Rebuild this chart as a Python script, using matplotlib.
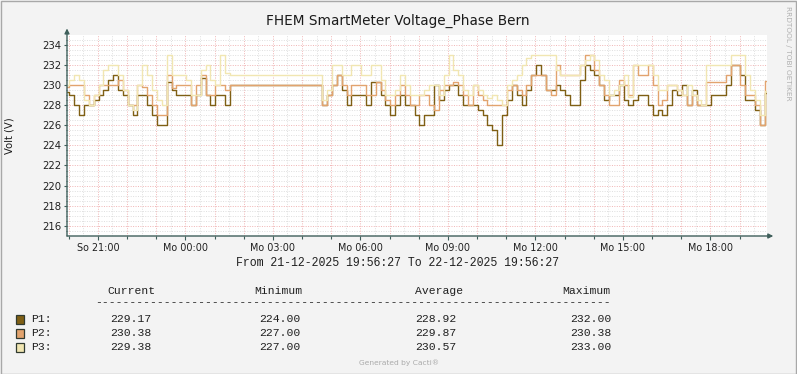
import matplotlib
matplotlib.use("Agg")
import matplotlib.pyplot as plt
from matplotlib.patches import Rectangle
import numpy as np

# ---------------- data (10-minute samples, start 21-12-2025 19:56:27) ----------------
p1 = [229.3, 229, 228, 227, 228, 228, 228.5, 229, 229.5, 230.5, 231, 229.5, 229, 228, 227, 229, 229, 228, 227, 226,
      226, 230.3, 229.5, 229, 229, 229, 228, 229, 230.7, 229, 228, 229, 229, 228, 230, 230,
      230, 230, 230, 230, 230, 230, 230, 230, 230, 230, 230, 230, 230, 230, 230, 230,
      230, 228, 229, 230, 231, 229.5, 228, 229, 229, 229, 228, 230.3, 230.3, 229, 228, 227, 228, 229,
      228, 228, 227, 226, 227, 227, 230, 228.5, 229.5, 230, 230, 229, 228, 228, 228, 227.5, 227, 226,
      225.5, 224, 227, 228.5, 230, 229, 228, 229.5, 231, 232, 231, 229.5, 229.5, 230, 229.5, 229, 228, 228,
      230.5, 232, 231.5, 231, 230, 228.5, 229, 229, 230, 228.5, 228, 228.5, 229, 229, 228, 227, 227.5, 227,
      228, 229.5, 229, 230, 228, 229.5, 228, 228, 228, 229, 229, 229, 230, 232, 232, 231, 228.5, 228.5,
      227.5, 226, 229.2]
p2 = [229.8, 230, 230, 230, 229, 228, 229, 230, 230, 230, 230, 230.5, 229.5, 228, 228, 230, 229.8, 229, 228, 227,
      227, 231, 229.7, 230, 230, 230, 228, 230, 231, 229, 229, 230, 230, 229.5, 230, 230,
      230, 230, 230, 230, 230, 230, 230, 230, 230, 230, 230, 230, 230, 230, 230, 230,
      230, 228, 229, 230, 231, 230, 229, 230, 230, 230, 229, 229, 230.3, 229.5, 228.5, 228, 229, 230,
      229, 228, 228, 229, 229, 228, 227.5, 229.5, 230, 230, 230.3, 230, 229, 228, 230, 229, 228.5, 228,
      228, 228, 228, 229.5, 230, 229.5, 229, 230, 231, 231, 231, 229.5, 229, 232, 231, 231, 231, 231,
      232, 233, 233, 231.5, 230, 229, 228, 228, 230.5, 230, 229, 232, 231, 231, 232, 230, 228, 228.5,
      230, 230, 229.5, 229, 228, 229, 228, 228, 230.3, 230.3, 230.3, 230.3, 231, 232, 232, 230, 229, 229,
      228, 226, 230.4]
p3 = [230, 230.5, 231, 230.5, 228.5, 228, 229, 230, 231.5, 232, 232, 231, 229.5, 228, 227.5, 230, 232, 231, 229.5, 228.5,
      228, 233, 231, 231, 231, 230.5, 229, 229, 231.5, 232, 230.5, 230, 233, 231.2, 231, 231,
      231, 231, 231, 231, 231, 231, 231, 231, 231, 231, 231, 231, 231, 231, 231, 231,
      231, 228.5, 229.5, 232, 232, 231, 231, 232, 232, 231, 231, 232, 232, 230.5, 229, 229, 229.5, 231,
      230, 229, 229, 229, 229.5, 230, 230, 229, 231, 233, 231.5, 231, 229.5, 229, 230, 229.5, 229, 228.7,
      229, 228.5, 228, 230, 230.5, 231, 232, 232.7, 233, 233, 233, 233, 233, 231.5, 231, 231, 231, 231,
      232, 232.5, 233, 232.5, 231, 230.5, 229, 229.5, 230, 231, 228.8, 232, 232, 232, 232, 231, 229.5, 229.5,
      230, 230, 229.5, 229, 230, 229, 228.5, 228, 232, 232, 232, 232, 232, 233, 233, 233, 231, 229.5,
      228.5, 227, 229.4]
series_names = ["P1:", "P2:", "P3:"]
series_colors = ["#7F5F14", "#E2A36E", "#F1E6B2"]
stat_headers = ["Current", "Minimum", "Average", "Maximum"]
stats = [["229.17", "224.00", "228.92", "232.00"],
         ["230.38", "227.00", "229.87", "230.38"],
         ["229.38", "227.00", "230.57", "233.00"]]
tick_labels = ["So 21:00", "Mo 00:00", "Mo 03:00", "Mo 06:00", "Mo 09:00", "Mo 12:00", "Mo 15:00", "Mo 18:00"]
title = "FHEM SmartMeter Voltage_Phase Bern"
ylabel = "Volt (V)"
period_text = "From 21-12-2025 19:56:27 To 22-12-2025 19:56:27"

# ---------------- figure ----------------
W, H = 797, 374
fig = plt.figure(figsize=(W / 100, H / 100), dpi=100, facecolor="#F3F3F3")

def fx(x):
    return x / W

def fy(y):
    return 1 - y / H

L, R, T, B = 67, 767, 34.5, 236
ax = fig.add_axes([fx(L), fy(B), (R - L) / W, (B - T) / H])
ax.set_facecolor("white")

samples = np.arange(len(p1)) * 10 / 60.0  # hours since start
ax.set_xlim(0, 24)
ax.set_ylim(215, 235)

# grid
off = 1 - 56.45 / 60.0  # 20:00 relative to start
hours = off + np.arange(0, 24)
halfs = off - 0.5 + np.arange(0, 25)
halfs = halfs[(halfs > 0) & (halfs < 24)]
minor_c = "#DEDEDE"
major_c = "#F0B4B4"
ls_dot = (0, (1, 1.5))
for hv in halfs:
    ax.axvline(hv, color=minor_c, lw=0.7, ls=ls_dot, zorder=0.5)
for yv in np.arange(215.5, 235, 0.5):
    if abs(yv % 2) > 1e-6:
        ax.axhline(yv, color=minor_c, lw=0.7, ls=ls_dot, zorder=0.5)
for hv in hours:
    ax.axvline(hv, color=major_c, lw=0.7, ls=ls_dot, zorder=0.6)
for yv in np.arange(216, 235, 2):
    ax.axhline(yv, color=major_c, lw=0.7, ls=ls_dot, zorder=0.6)

for vals, c in zip([p1, p2, p3], series_colors):
    ax.plot(samples, vals, color=c, lw=1.0, zorder=2, drawstyle="steps-mid")

for s in ax.spines.values():
    s.set_visible(False)

axis_c = "#3F5F5B"
ax.annotate("", xy=(0, 1.03), xytext=(0, 0), xycoords="axes fraction",
            arrowprops=dict(arrowstyle="-|>", color=axis_c, lw=1, mutation_scale=7, shrinkA=0, shrinkB=0),
            annotation_clip=False, zorder=5)
ax.annotate("", xy=(1.009, 0), xytext=(0, 0), xycoords="axes fraction",
            arrowprops=dict(arrowstyle="-|>", color=axis_c, lw=1, mutation_scale=7, shrinkA=0, shrinkB=0),
            annotation_clip=False, zorder=5)

label_pos = off + np.array([1, 4, 7, 10, 13, 16, 19, 22])
ax.set_xticks(label_pos)
ax.set_xticklabels(tick_labels, fontsize=6.9, color="#202020", family="DejaVu Sans")
ax.set_xticks(hours, minor=True)
ax.tick_params(axis="x", which="major", length=3, width=0.8, color=axis_c, pad=2)
ax.tick_params(axis="x", which="minor", length=2, width=0.8, color=axis_c)
yt = np.arange(216, 235, 2)
ax.set_yticks(yt)
ax.set_yticklabels([str(v) for v in yt], fontsize=7.3, color="#202020", family="DejaVu Sans")
ax.set_yticks(np.arange(215.5, 235, 0.5), minor=True)
ax.tick_params(axis="y", which="major", length=2, width=0.8, color=axis_c, pad=2)
ax.tick_params(axis="y", which="minor", length=1, width=0.6, color=axis_c)

# texts
fig.text(fx(398), fy(21), title, ha="center", va="center", fontsize=9.8, color="#1A1A1A", family="DejaVu Sans")
fig.text(fx(10), fy(136), ylabel, ha="center", va="center", rotation=90, fontsize=7.2, color="#1A1A1A",
         family="DejaVu Sans")
fig.text(fx(788), fy(6), "RRDTOOL / TOBI OETIKER", ha="center", va="top", rotation=270, fontsize=5.3,
         color="#B0B0B0", family="DejaVu Sans")
mono = "Liberation Mono"
fig.text(fx(398), fy(263), period_text, ha="center", va="center", fontsize=8.3, color="#202020", family=mono)

hdr_x = [107, 254, 415, 562]
for hx, hd in zip(hdr_x, stat_headers):
    fig.text(fx(hx), fy(291), hd, ha="left", va="center", fontsize=8.2, color="#202020", family=mono)
fig.text(fx(95), fy(302), "-" * 75, ha="left", va="center", fontsize=8.2, color="#202020", family=mono)

val_right = [151, 300, 456, 611]
rows_y = [319, 333, 347]
for name, c, st, ry in zip(series_names, series_colors, stats, rows_y):
    fig.patches.append(Rectangle((fx(15.5), fy(ry + 4.5)), 8.5 / W, 8.5 / H, transform=fig.transFigure,
                                 facecolor=c, edgecolor="#303A30", lw=0.9))
    fig.text(fx(31), fy(ry), name, ha="left", va="center", fontsize=8.2, color="#202020", family=mono)
    for vx, v in zip(val_right, st):
        fig.text(fx(vx), fy(ry), v, ha="right", va="center", fontsize=8.2, color="#202020", family=mono)

fig.text(fx(399), fy(363), "Generated by Cacti®", ha="center", va="center", fontsize=5.4, color="#ABABAB",
         family="DejaVu Sans")

# outer border
fig.patches.append(Rectangle((0.5 / W, 0.5 / H), (W - 1.5) / W, (H - 1.5) / H, transform=fig.transFigure,
                             facecolor="none", edgecolor="#A8A8A8", lw=1.0))

fig.savefig("out.png", dpi=100, facecolor=fig.get_facecolor())
